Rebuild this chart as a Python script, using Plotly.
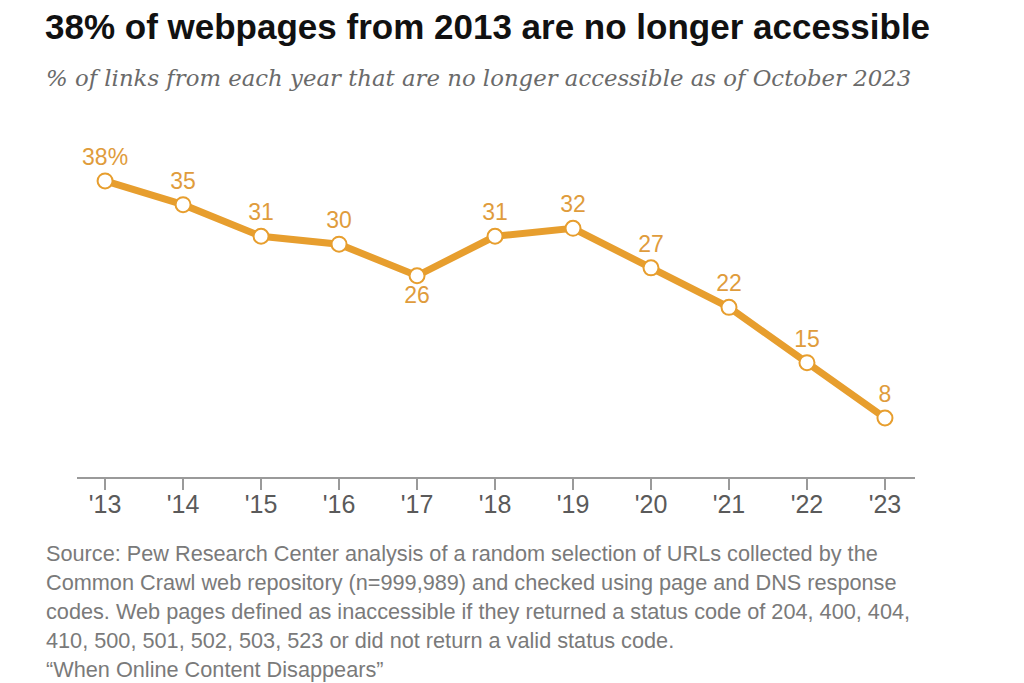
import plotly.graph_objects as go

years = [2013, 2014, 2015, 2016, 2017, 2018, 2019, 2020, 2021, 2022, 2023]
tick_labels = ["'13", "'14", "'15", "'16", "'17", "'18", "'19", "'20", "'21", "'22", "'23"]
values = [38, 35, 31, 30, 26, 31, 32, 27, 22, 15, 8]
label_pos = ["top center"] * 4 + ["bottom center"] + ["top center"] * 6
labels = [f"{v}%" if i == 0 else str(v) for i, v in enumerate(values)]

title_text = "38% of webpages from 2013 are no longer accessible"
subtitle_text = "% of links from each year that are no longer accessible as of October 2023"
source_lines = [
    "Source: Pew Research Center analysis of a random selection of URLs collected by the",
    "Common Crawl web repository (n=999,989) and checked using page and DNS response",
    "codes. Web pages defined as inaccessible if they returned a status code of 204, 400, 404,",
    "410, 500, 501, 502, 503, 523 or did not return a valid status code.",
    "\u201cWhen Online Content Disappears\u201d",
]

orange = "#E79E2E"
label_color = "#DF9C3C"
sans = "Liberation Sans, Arial, sans-serif"

ML, MR, MT, MB = 77, 109, 130, 206
W, H = 1024, 683
plot_w = W - ML - MR
plot_h = H - MT - MB


def px_to_paper(xp, yp):
    return (xp - ML) / plot_w, (H - MB - yp) / plot_h


fig = go.Figure()
fig.add_trace(go.Scatter(
    x=years, y=values,
    mode="lines+markers+text",
    line=dict(color=orange, width=7),
    marker=dict(size=15, color="white", line=dict(color=orange, width=2)),
    text=labels,
    textposition=label_pos,
    textfont=dict(family=sans, size=23, color=label_color),
    cliponaxis=False,
    hoverinfo="skip",
))

anns = []
tx, ty = px_to_paper(43, 26)
anns.append(dict(text=f"<b>{title_text}</b>", xref="paper", yref="paper", x=tx, y=ty,
                 xanchor="left", yanchor="middle", showarrow=False,
                 font=dict(family=sans, size=35, color="#111111")))
sx, sy = px_to_paper(44, 78)
anns.append(dict(text=f"<i>{subtitle_text}</i>", xref="paper", yref="paper", x=sx, y=sy,
                 xanchor="left", yanchor="middle", showarrow=False,
                 font=dict(family="DejaVu Serif, Georgia, serif", size=22.8, color="#6a6a6a")))
for i, line in enumerate(source_lines):
    lx, ly = px_to_paper(44, 553 + i * 29)
    anns.append(dict(text=line, xref="paper", yref="paper", x=lx, y=ly,
                     xanchor="left", yanchor="middle", showarrow=False,
                     font=dict(family=sans, size=21.7, color="#7a7a7a")))

fig.update_layout(
    width=W, height=H,
    paper_bgcolor="white", plot_bgcolor="white",
    margin=dict(l=ML, r=MR, t=MT, b=MB),
    showlegend=False,
    xaxis=dict(
        range=[2012.64, 2023.385],
        tickmode="array", tickvals=years, ticktext=tick_labels,
        showgrid=False, zeroline=False,
        showline=True, linecolor="#9a9a9a", linewidth=1.5,
        ticks="outside", ticklen=11, tickcolor="#9a9a9a", tickwidth=1.5,
        ticklabelstandoff=-7,
        tickfont=dict(family=sans, size=25, color="#5a5a5a"),
        fixedrange=True,
    ),
    yaxis=dict(range=[0.53, 44.45], visible=False, showgrid=False,
               zeroline=False, fixedrange=True),
    annotations=anns,
)

fig.write_html("out.html")
